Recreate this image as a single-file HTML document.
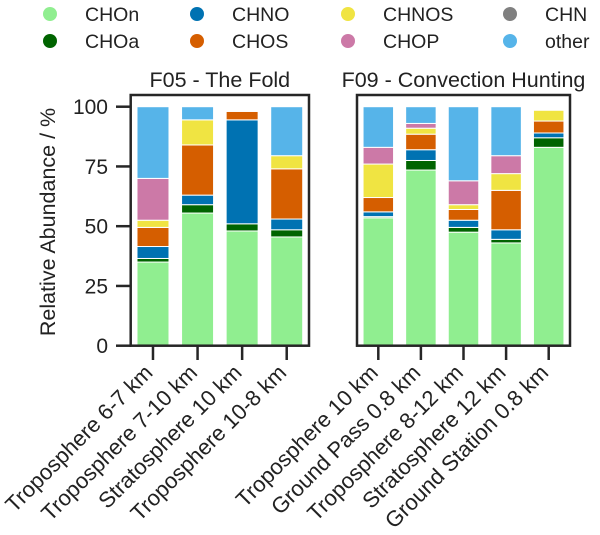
<!DOCTYPE html>
<html><head><meta charset="utf-8"><style>
body{margin:0;background:#fff}
svg{display:block;font-family:"Liberation Sans",Arial,sans-serif}
</style></head><body>
<svg id="chart" width="600" height="535" xmlns="http://www.w3.org/2000/svg"></svg>
<script>
const classes = ["CHOn","CHOa","CHNO","CHOS","CHNOS","CHOP","CHN","other"];
const colors = ["#90ee90","#006400","#0072b2","#d55e00","#f0e442","#cc79a7","#808080","#56b4e9"];
const catsLeft = ["Troposphere 6-7 km","Troposphere 7-10 km","Stratosphere 10 km","Troposphere 10-8 km"];
const catsRight = ["Troposphere 10 km","Ground Pass 0.8 km","Troposphere 8-12 km","Stratosphere 12 km","Ground Station 0.8 km"];
const leftValues = [
  [35,55.5,48,45.5],
  [1.5,3.5,3,3],
  [5,4,43.5,4.5],
  [8,21,3.5,21],
  [3,10.5,0,5.5],
  [17.5,0,0,0],
  [0,0,0,0],
  [30,5.5,0,20.5]
];
const rightValues = [
  [53.5,73.5,47.5,43,83],
  [0.5,4,2,1.5,4],
  [2,4.5,3,4,2],
  [6,6.5,4.5,16.5,5],
  [14,2.5,2,7,4.5],
  [7,2,10,7.5,0],
  [0,0,0,0,0],
  [17,7,31,20.5,0]
];
const yTicks = [0,25,50,75,100];
const titles = ["F05 - The Fold","F09 - Convection Hunting"];

const NS="http://www.w3.org/2000/svg";
const svg=document.getElementById('chart');
function mk(tag,attrs,parent){const e=document.createElementNS(NS,tag);for(const k in attrs)e.setAttribute(k,attrs[k]);(parent||svg).appendChild(e);return e;}
const y0=345.7, pxPer=2.39;
function yScale(v){return y0-v*pxPer;}

const legCols=[50,197,348,510];
classes.forEach((c,i)=>{
  const col=Math.floor(i/2), row=i%2;
  const g=mk('g',{});
  
  
  const cy=row===0?14:41;
  mk('circle',{cx:legCols[col],cy:cy,r:7,fill:colors[i]},g);
  const t=mk('text',{x:legCols[col]+35,y:cy+7,'font-size':19.5,fill:'#222'},g);
  t.textContent=c;
});

const ya=mk('g',{});


yTicks.forEach(v=>{
  const y=yScale(v);
  mk('line',{x1:116,x2:131,y1:y,y2:y,stroke:'#262626','stroke-width':2.5},ya);
  const t=mk('text',{x:108,y:y+7.5,'font-size':21,'text-anchor':'end',fill:'#222'},ya);
  t.textContent=v;
});
const yt=mk('text',{x:0,y:0,'font-size':21.5,'text-anchor':'middle',fill:'#222',transform:'translate(55,222) rotate(-90)'});


yt.textContent='Relative Abundance / %';

function panel(px0,px1,cats,vals,title,name,barW){
  const g=mk('g',{});
  
  
  const n=cats.length;
  const step=(px1-px0)/n;
  cats.forEach((c,j)=>{
    const cx=px0+step*(j+0.5);
    let cum=0;
    classes.forEach((cl,i)=>{
      const v=vals[i][j];
      if(v>0){
        const r=mk('rect',{x:cx-barW/2,y:yScale(cum+v),width:barW,height:v*pxPer,fill:colors[i],stroke:'#fff','stroke-width':1},g);
        
        
      }
      cum+=v;
    });
    mk('line',{x1:cx,x2:cx,y1:346,y2:360,stroke:'#262626','stroke-width':2.5},g);
    const t=mk('text',{x:0,y:0,'font-size':22,'text-anchor':'end',fill:'#222',transform:`translate(${cx+1},${374}) rotate(-45)`},g);
    
    
    t.textContent=c;
  });
  mk('rect',{x:px0,y:95,width:px1-px0,height:250.7,fill:'none',stroke:'#262626','stroke-width':2.5},g);
  const tt=mk('text',{x:(px0+px1)/2,y:87,'font-size':21.5,'text-anchor':'middle',fill:'#222'},g);
  
  
  tt.textContent=title;
}
panel(130.7,309,catsLeft,leftValues,titles[0],'panel-f05',32);
panel(357,570,catsRight,rightValues,titles[1],'panel-f09',30.5);
</script>
</body></html>
